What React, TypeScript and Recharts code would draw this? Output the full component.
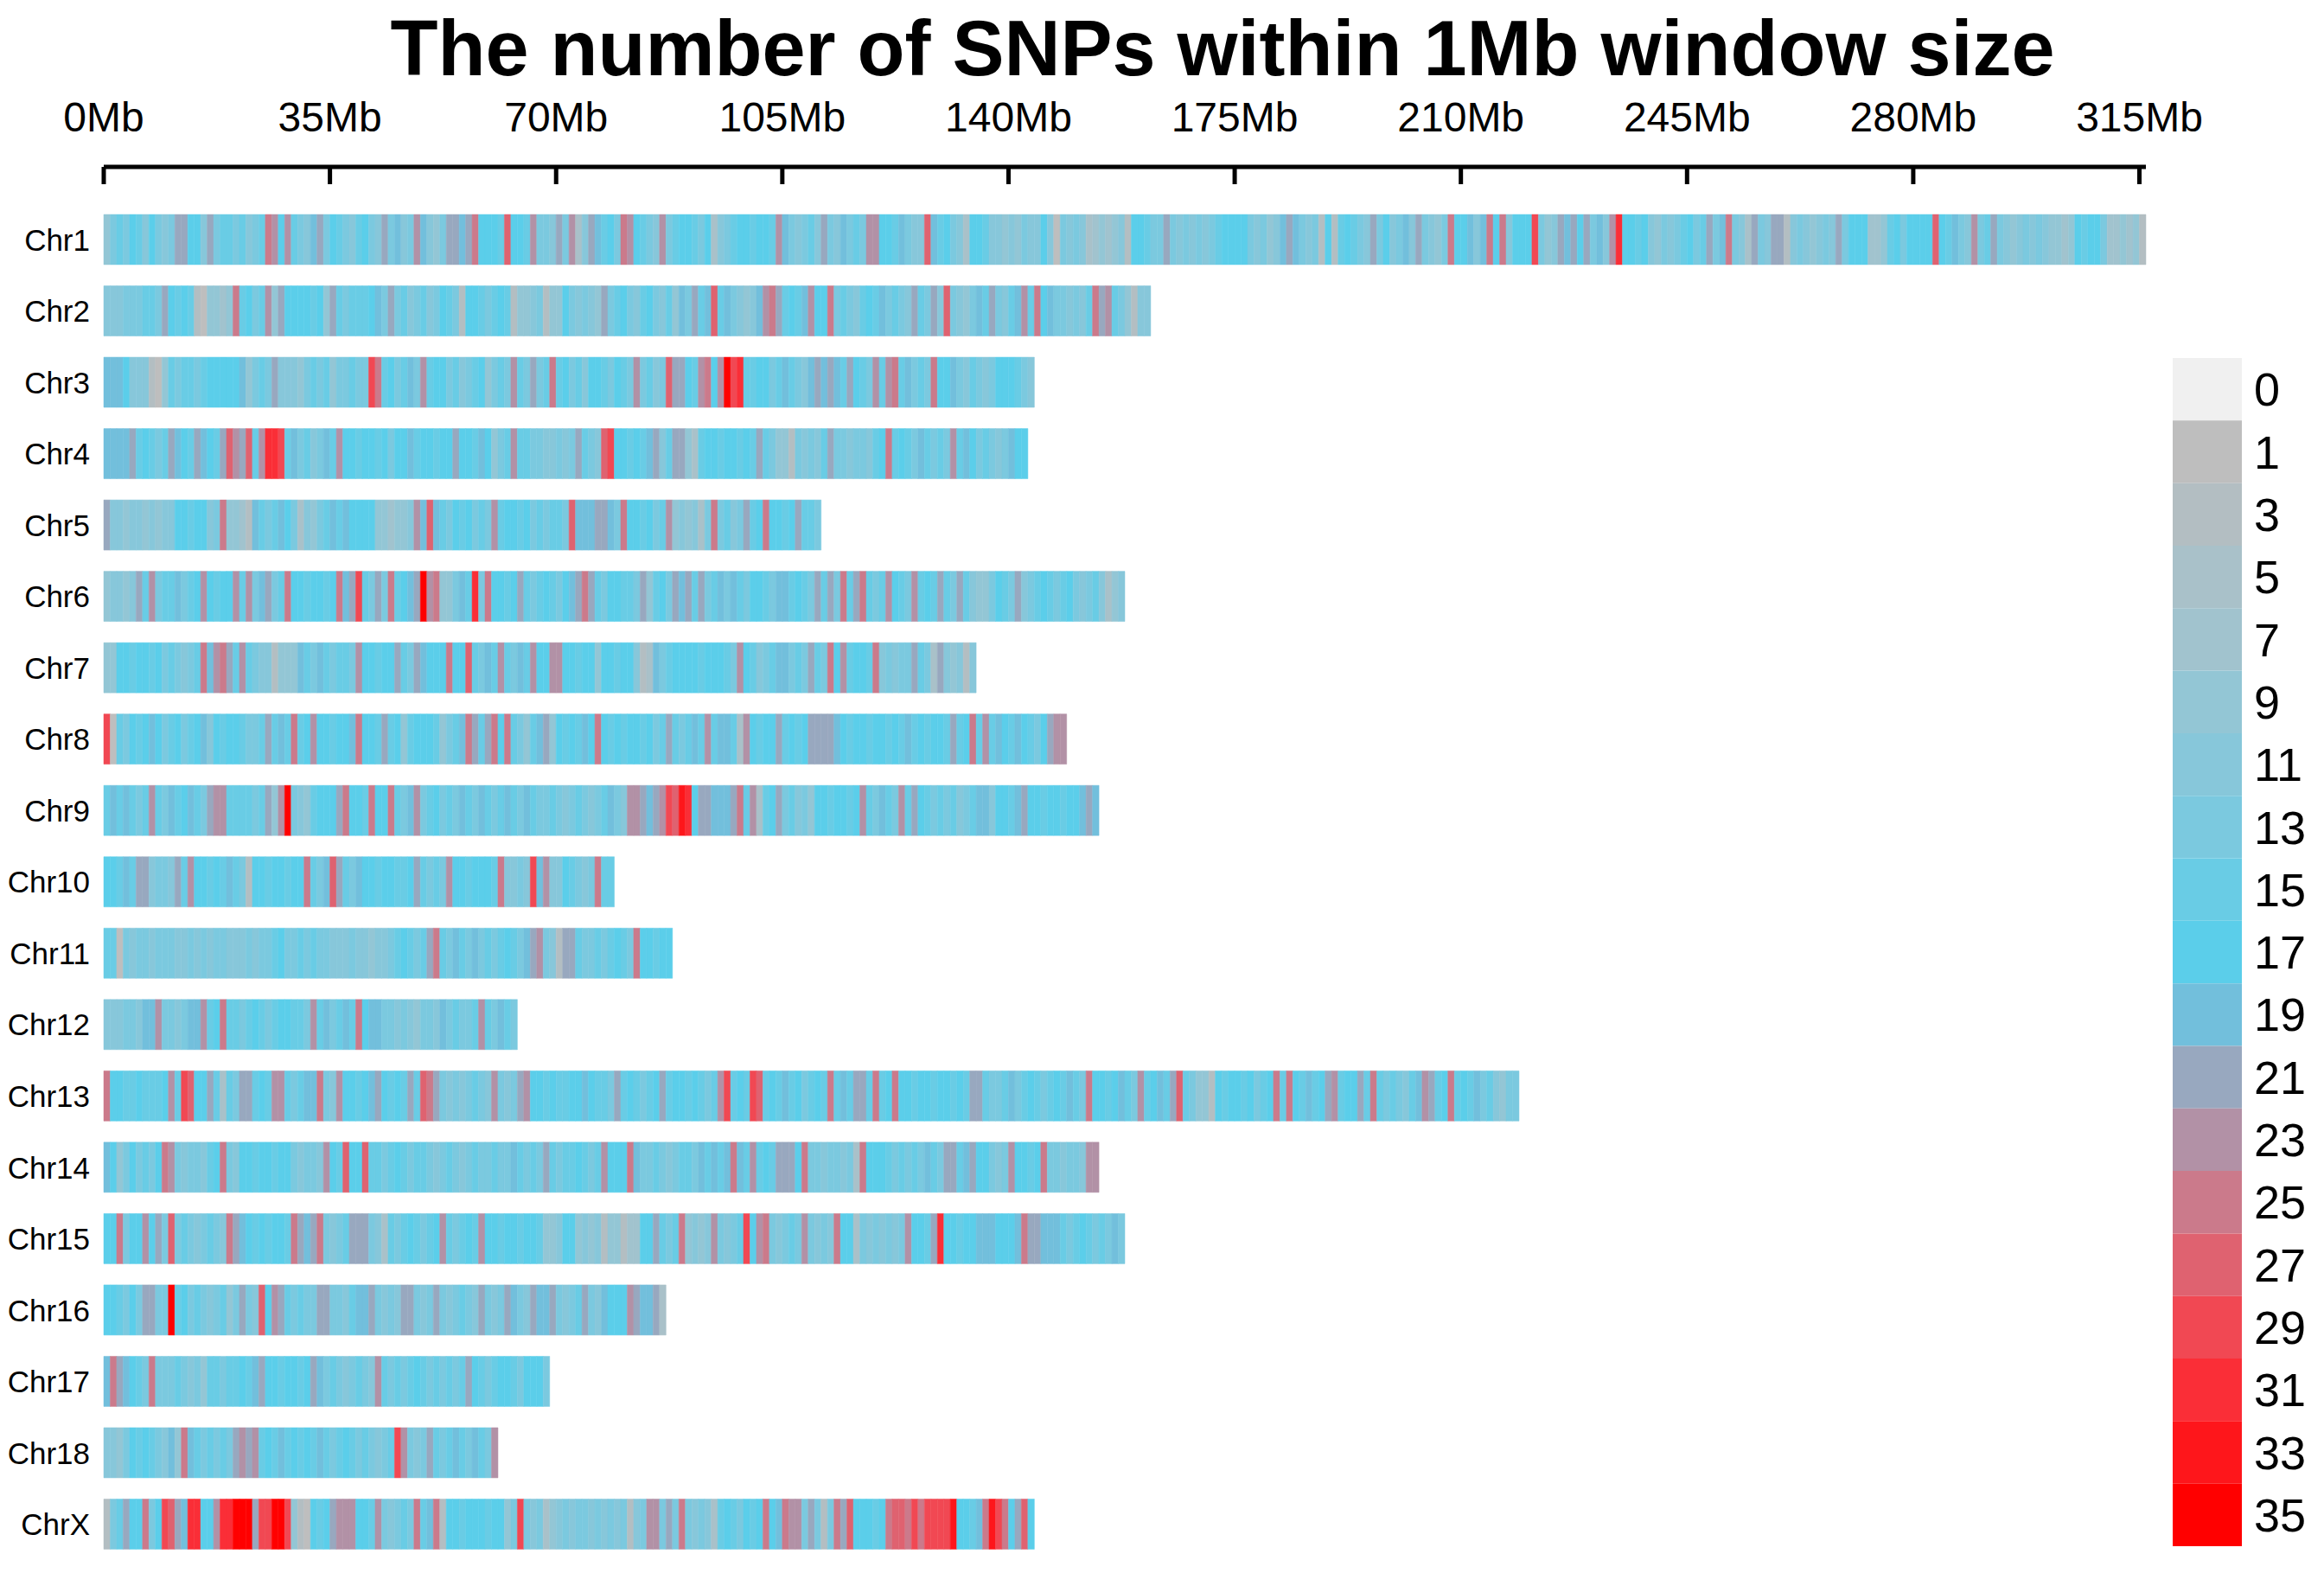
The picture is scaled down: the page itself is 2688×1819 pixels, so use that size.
import React from 'react';
import { BarChart, Bar, Cell, XAxis, YAxis } from 'recharts';

// chromosome names, top to bottom
const CHROMOSOMES = [
  'Chr1', 'Chr2', 'Chr3', 'Chr4', 'Chr5', 'Chr6', 'Chr7', 'Chr8', 'Chr9', 'Chr10',
  'Chr11', 'Chr12', 'Chr13', 'Chr14', 'Chr15', 'Chr16', 'Chr17', 'Chr18', 'ChrX',
];

// one character per 1Mb window; the character is the legend bin (see BIN_KEYS)
const WINDOW_CODES = [
  ['5787986976', '7BB996B788', '78678DC9C8', '76AB798768', '976B7A67CA', '657BBABD99', '98E998C776', 'B7C36BA897',
    'DC9876C789', '9879367899', '8998CA7678', '6B76A787CC', '998A766EA8', '9763998665', '6576696176', '7634545629',
    '9877B76767', '6789999767', '56ABA76729', '289876B796', '7A6B7657D9', '9A6AD9D699', '9F756BAB9B', '7A6CG99896',
    '57678978B7', 'AD763B76BB', '26765676B7', '9994458979', '999E98A76C', '78B7656767', '6554598997', '445452'].join(''),
  ['666777887B', '9898215545', 'D8978C5B99', '99895B8788', '89A7B78678', '6798729987', '8982556725', '5976765B78',
    '976897685A', '7B8AE8A765', '6ACDB898AC', '99D7876898', 'A7876B87B6', 'E7657A8B76', '8AC8D9A776', '768DBC8752', '66'].join(''),
  ['AAA9666215', '8788789999', '9A5787B666', '5787857787', '7FD8978A7C', '8997867895', '787C87B78D', '8978699879',
    '87C7867EBB', '98CD9CIFG8', '89978A876A', 'BABA8B987C', '8CD8A787D9', '9A76876799', '9876'].join(''),
  ['AAAAB89878', 'BA98BA98BE', 'CBE8CGGF8A', '7867A8C998', '9989799A89', '9899B998A9', '578C887766', '767B876EF9',
    '9898AB68BB', '5389989989', '8B87552767', '68B7767768', '9D8987A878', '7C8A978767', 'A99'].join(''),
  ['B665665656', '69989967D5', '542A878A97', '36578A8A99', '99554556CA', 'EA87989787', 'C899897878', '87EAAABBA7',
    'D998978C56', '5637D7867B', '89D9989B887'].join(''),
  ['56656B8C78', '8A789C9899', 'C8C7AB78D9', '989989DABF', '87B7D89ABI', 'CD557A8G7D', '9989B87898', '79ABDB8799',
    '887B5897BA', 'B8B78A7A87', '9987AA8987', 'B8B7D8BD87', '8C987C898B', '87B8655798', '7B67898789', '76786356'].join(''),
  ['5599899897', '87678DACDB', '8C87662555', 'A87A87887C', '99899B87BA', '999D99E87A', '8C87A8C99C', 'C998995998',
    '99623A7899', '99899987C9', '8678AA787B', '87D9C8998D', '67677B873B', '65626'].join(''),
  ['F187989A97', '89789A6989', '98778B8A8D', '89C99899AD', '998B895899', '98578ADB8B', 'D9D8758AB5', '9898A9D989',
    '8998978B87', '8A8C8AA83C', '9899B8989B', 'BBBA989989', '9898A89899', '8B89D8C8A9', '8A9879BCC'].join(''),
  ['8A8A878C87', 'A89A87BCC8', '88878B5CI7', '658999BD99', '8D99D87AC7', '89787A87A8', '78A87A8778', '76787678A7',
    '6CCBABCFEH', 'G9BBAAABD8', 'C389B78675', '9989989C87', 'A87C8B9878', '78678AA699', '8AB9989989', '9ABA'].join(''),
  ['998A8BB677', '6B8C99898A', '8729989989', '9D87AEB87A', '99899889B8', '787C998999', '8D6676FAC6', '698767D88'].join(''),
  ['8817677677', '7667676776', '6676778977', '8787766676', '6566789878', 'BD87A87A78', '78987ABC76', '2BB8778789',
    '87D99899'].join(''),
  ['666776AAC7', '767AAC89D8', '8789878998', '87C8A78A8D', '9AA7767657', '76A78778C8', '7A87'].join(''),
  ['D998898889', 'C8FE99B838', '7BB898CC87', '8AAD76C998', '9AB9898B8E', 'DB76767876', 'C767BC9989', '8899A9887B',
    '898789B899', '89878CF898', 'FE898A8978', '98D8A8BB8D', '89D9989989', '9898BB8778', 'A78987898A', '87D9989A87',
    'C89A8BE875', '5298998978', '9D8D98A89B', 'C899B8D878', '768ACB89D8', '98A786577'].join(''),
  ['A95797879D', 'C7677689D7', '6998998997', '6776C98E99', 'E887898788', '7678767877', '877A8787B8', '7889878C99',
    '9DA7787678', '87A8A8ADA8', 'C898BBB9D7', '7677673D99', '9878787A87', 'BB8AB99767', 'C9989D7767', '76CC'].join(''),
  ['99D799C9B7', 'E78767876D', 'BA9898998D', 'BABD7678BB', 'B763878987', '89C87898C9', '9899899855', '6995656255',
    '24499B878D', '5656C7678F', '9CD76787C7', '676D993767', '6767C998BG', '99899AAA99', '9ADBBAAA87', '898787A7'].join(''),
  ['998797BB77', 'I897876785', '7B76E9CB87', '877BB7768A', 'AB7676BB76', '7B767876B7', '67BA76BAAB', '7678B76A99',
    '9CBAAB3'].join(''),
  ['ADBA987D77', '7876758878', '898AB99899', '89BA787678', '76C8787898', '787878B987', '899879997'].join(''),
  ['6657989876', 'A5DA878787', 'BCBC898A89', '898A878987', '87678FC767', 'B878A87A87C'].join(''),
  ['278B99D79F', 'EBAGG99CGG', 'IIIBFFIIF5', '21989BCCC9', '98C76787D8', 'AD29989998', '9957F76735', '6767767676',
    '7267CC7B7D', '7676389879', '89D9ADCC7B', '727DBE9998', '9DEEDFDFFF', 'FH998ADHFD', '9BE9'].join(''),
];

const BIN_KEYS = '0123456789ABCDEFGHI';
const BIN_LABELS = [0, 1, 3, 5, 7, 9, 11, 13, 15, 17, 19, 21, 23, 25, 27, 29, 31, 33, 35];
const BIN_COLORS = [
  '#F0F0F0', '#BEBEBE', '#B3BEC2', '#A9C1C9', '#A1C3CE', '#93C6D5', '#87C7DA', '#7BC9DF', '#69CCE5', '#5BCEEA',
  '#72BFDC', '#98A8BF', '#B291A6', '#CB7A8B', '#DF6270', '#F14853', '#FA2E37', '#FE161B', '#FF0000',
];
const X_TICKS = [0, 35, 70, 105, 140, 175, 210, 245, 280, 315];

const snpCount = (code: string) => BIN_LABELS[BIN_KEYS.indexOf(code)];
const colorFor = (count: number) => BIN_COLORS[BIN_LABELS.indexOf(count)];

const maxWindows = Math.max(...WINDOW_CODES.map((w) => w.length));
const windowKeys = Array.from({ length: maxWindows }, (_, i) => `w${i}`);

const rows = CHROMOSOMES.map((chr, r) => {
  const row: Record<string, any> = { chr };
  windowKeys.forEach((k, i) => {
    row[k] = i < WINDOW_CODES[r].length ? 1 : 0;
  });
  return row;
});

const legendRows = [
  BIN_LABELS.reduce((acc: Record<string, any>, _b, i) => {
    acc[`b${i}`] = 1;
    return acc;
  }, { k: 'key' }),
];
const LEGEND_TICKS = BIN_LABELS.map((_b, i) => i + 0.5);

const MbTick = (props: any) => {
  const { x, y, payload } = props;
  return (
    <g>
      <line x1={x} y1={y} x2={x} y2={y + 20} stroke="#000" strokeWidth={5} />
      <text x={x} y={y - 41} textAnchor="middle" fontSize={48} fill="#000">
        {`${payload.value}Mb`}
      </text>
    </g>
  );
};

export default function App() {
  return (
    <div
      style={{
        position: 'relative',
        width: 2688,
        height: 1819,
        background: '#fff',
        fontFamily: "'Liberation Sans', Arial, sans-serif",
      }}
    >
      <style>{'body{margin:0;background:#fff}'}</style>
      <div
        style={{
          position: 'absolute',
          left: 1414,
          top: 11,
          transform: 'translateX(-50%)',
          whiteSpace: 'nowrap',
          fontSize: 90,
          lineHeight: '90px',
          fontWeight: 'bold',
          color: '#000',
        }}
      >
        The number of SNPs within 1Mb window size
      </div>

      <div style={{ position: 'absolute', left: 0, top: 0 }}>
        <BarChart
          width={2570}
          height={1819}
          data={rows}
          layout="vertical"
          margin={{ top: 0, right: 88, left: 0, bottom: 15 }}
        >
          <XAxis
            type="number"
            orientation="top"
            domain={[0, 316]}
            ticks={X_TICKS}
            interval={0}
            height={193}
            axisLine={{ stroke: '#000', strokeWidth: 5 }}
            tickLine={false}
            tickSize={0}
            tickMargin={0}
            tick={<MbTick />}
          />
          <YAxis
            type="category"
            dataKey="chr"
            width={120}
            interval={0}
            axisLine={false}
            tickLine={false}
            tickSize={0}
            tickMargin={16}
            padding={{ top: 43, bottom: 0 }}
            tick={{ fill: '#000', fontSize: 35 }}
          />
          {windowKeys.map((k, i) => (
            <Bar key={k} dataKey={k} stackId="chr" barSize={58} isAnimationActive={false}>
              {rows.map((row, r) => {
                const code = WINDOW_CODES[r][i];
                const fill = code ? colorFor(snpCount(code)) : 'none';
                return <Cell key={row.chr} fill={fill} stroke={fill} strokeWidth={0.5} />;
              })}
            </Bar>
          ))}
        </BarChart>
      </div>

      <div style={{ position: 'absolute', left: 2513, top: 414 }}>
        <BarChart
          width={175}
          height={1374}
          data={legendRows}
          margin={{ top: 0, right: 0, left: 0, bottom: 0 }}
          barCategoryGap={0}
        >
          <XAxis dataKey="k" hide />
          <YAxis
            orientation="right"
            type="number"
            domain={[0, BIN_LABELS.length]}
            reversed
            ticks={LEGEND_TICKS}
            interval={0}
            width={95}
            axisLine={false}
            tickLine={false}
            tickSize={0}
            tickMargin={14}
            tickFormatter={(v: number) => String(BIN_LABELS[Math.floor(v)])}
            tick={{ fill: '#000', fontSize: 54 }}
          />
          {BIN_LABELS.map((b, i) => (
            <Bar key={b} dataKey={`b${i}`} stackId="key" fill={BIN_COLORS[i]} isAnimationActive={false} />
          ))}
        </BarChart>
      </div>
    </div>
  );
}
